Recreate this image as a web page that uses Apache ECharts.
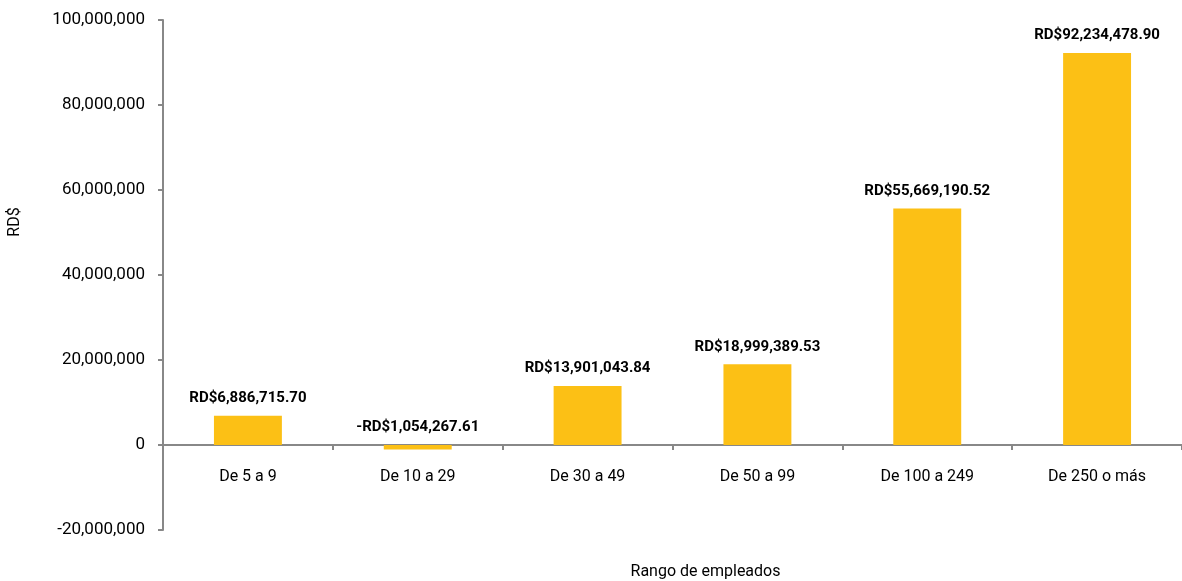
<!DOCTYPE html>
<html>
<head>
<meta charset="utf-8">
<script src="https://cdn.jsdelivr.net/npm/echarts@6/dist/echarts.min.js"></script>
<style>
  html, body { margin: 0; padding: 0; background: #fff; }
  #main { width: 1182px; height: 581px; }
</style>
</head>
<body>
<div id="main"></div>
<script>
  // rangos de empleados y montos (RD$)
  const categories = ['De 5 a 9', 'De 10 a 29', 'De 30 a 49', 'De 50 a 99', 'De 100 a 249', 'De 250 o más'];
  const values = [6886715.70, -1054267.61, 13901043.84, 18999389.53, 55669190.52, 92234478.90];
  const yTicks = [-20000000, 0, 20000000, 40000000, 60000000, 80000000, 100000000];

  const font = '"Roboto", "Noto Sans", sans-serif';

  function fmtMoney(v) {
    const s = Math.abs(v).toLocaleString('en-US', { minimumFractionDigits: 2, maximumFractionDigits: 2 });
    return (v < 0 ? '-' : '') + 'RD$' + s;
  }

  const chart = echarts.init(document.getElementById('main'));
  const option = {
    backgroundColor: '#fff',
    animation: false,
    grid: { left: 163, right: 0, top: 20, bottom: 51, containLabel: false, outerBoundsMode: 'none' },
    xAxis: {
      type: 'category',
      data: categories,
      position: 'bottom',
      offset: -85, // eje en el cero
      name: 'Rango de empleados',
      nameLocation: 'middle',
      nameGap: 119,
      nameTextStyle: { color: '#000', fontSize: 16, fontFamily: font, padding: [0, 0, 0, 66] },
      axisLine: { onZero: false, lineStyle: { color: '#888', width: 2 } },
      axisTick: { show: true, length: 5, lineStyle: { color: '#888', width: 2 } },
      axisLabel: { color: '#000', fontSize: 16, fontFamily: font, margin: 24 }
    },
    yAxis: {
      type: 'value',
      min: yTicks[0],
      max: yTicks[yTicks.length - 1],
      interval: 20000000,
      name: 'RD$',
      nameLocation: 'middle',
      nameGap: 140,
      nameTextStyle: { color: '#000', fontSize: 16, fontFamily: font, padding: [0, 0, 0, 106] },
      splitLine: { show: false },
      axisLine: { show: true, lineStyle: { color: '#888', width: 2 } },
      axisTick: { show: true, length: 5, lineStyle: { color: '#888', width: 2 } },
      axisLabel: {
        color: '#000', fontSize: 17, fontFamily: font, margin: 18,
        formatter: v => v.toLocaleString('en-US')
      }
    },
    series: [{
      type: 'bar',
      data: values,
      barWidth: '40%',
      itemStyle: { color: '#FCC015' },
      label: {
        show: true,
        position: 'top',
        distance: 10,
        color: '#000',
        fontWeight: 'bold',
        fontSize: 15,
        fontFamily: font,
        formatter: p => fmtMoney(p.value)
      }
    }]
  };
  chart.setOption(option);
</script>
</body>
</html>
